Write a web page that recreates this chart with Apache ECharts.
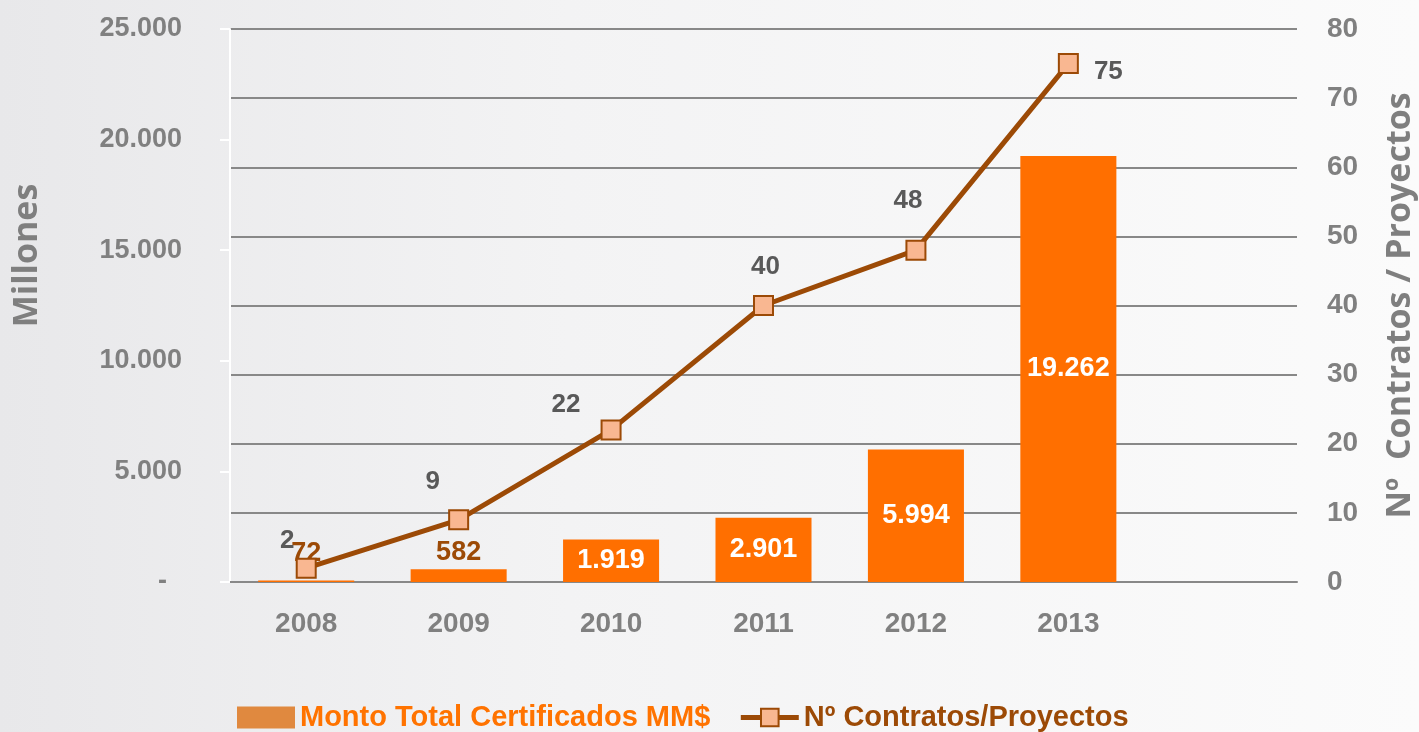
<!DOCTYPE html>
<html>
<head>
<meta charset="utf-8">
<script src="https://cdn.jsdelivr.net/npm/echarts@6/dist/echarts.min.js"></script>
<style>
  html, body { margin: 0; padding: 0; }
  body { background: linear-gradient(to right, #e8e8ea 0%, #f3f3f4 40%, #fbfbfb 100%); }
  #main { width: 1419px; height: 732px; }
</style>
</head>
<body>
<div id="main"></div>
<script>
var years = ['2008', '2009', '2010', '2011', '2012', '2013', ''];
var montoTotal = [72, 582, 1919, 2901, 5994, 19262];
var contratos = [2, 9, 22, 40, 48, 75];
// label offsets for the line points, as in the original
var lineLabelOffset = [[-19, 1], [-26, -9], [-45, 3], [2, -10], [-8, -21], [40, 37]];

var fontFam = '"Liberation Sans", Arial, sans-serif';
var nameFam = '"Open Sans", sans-serif';

/* thousands with a dot, like the original */
function fmt(v) {
    return String(v).replace(/\B(?=(\d{3})+(?!\d))/g, '.');
}

var barData = montoTotal.map(function (v) {
    var small = v < 1000;
    return {
        value: v,
        label: {
            position: small ? 'top' : 'inside',
            color: small ? '#9C4A06' : '#ffffff',
            distance: v < 100 ? 13 : 3
        }
    };
});

var lineData = contratos.map(function (v, i) {
    return {
        value: v,
        label: { offset: lineLabelOffset[i] }
    };
});

var chart = echarts.init(document.getElementById('main'));
chart.setOption({
    backgroundColor: 'transparent',
    animation: false,
    grid: { left: 230, right: 122, top: 29, bottom: 150, outerBoundsMode: 'none' },
    legend: {
        top: 698,
        left: 232,
        itemWidth: 58,
        itemHeight: 22,
        itemGap: 28,
        textStyle: { fontFamily: fontFam, fontWeight: 'bold', fontSize: 29 },
        data: [
            { name: 'Monto Total Certificados MM$', icon: 'rect', itemStyle: { color: '#E0893F' }, textStyle: { color: '#FF7300' } },
            { name: 'Nº Contratos/Proyectos', lineStyle: { width: 5, color: '#9C4A06' }, textStyle: { color: '#9C4A06' } }
        ]
    },
    xAxis: {
        type: 'category',
        data: years,
        axisLine: { lineStyle: { color: '#888888', width: 2 } },
        axisTick: { show: false },
        axisLabel: { color: '#808080', fontFamily: fontFam, fontWeight: 'bold', fontSize: 28, margin: 28 }
    },
    yAxis: [{
        type: 'value',
        min: 0, max: 25000, interval: 5000,
        name: 'Millones',
        nameLocation: 'middle',
        nameRotate: 90,
        nameGap: 186,
        nameTextStyle: { color: '#7f7f7f', fontFamily: nameFam, fontWeight: 'bold', fontSize: 34, padding: [0, 0, 0, 100] },
        axisLine: { show: true, lineStyle: { color: '#ffffff', width: 2 } },
        axisTick: { show: true, length: 10, lineStyle: { color: '#ffffff', width: 2 } },
        splitLine: { show: false },
        axisLabel: {
            color: '#808080', fontFamily: fontFam, fontWeight: 'bold', fontSize: 27, margin: 48,
            formatter: function (v) { return v === 0 ? '-  ' : fmt(v); }
        }
    }, {
        type: 'value',
        min: 0, max: 80, interval: 10,
        name: 'Nº  Contratos / Proyectos',
        nameLocation: 'middle',
        nameRotate: 90,
        nameGap: 86,
        nameTextStyle: { color: '#7f7f7f', fontFamily: nameFam, fontWeight: 'bold', fontSize: 34 },
        axisLine: { show: false },
        axisTick: { show: false },
        splitLine: { lineStyle: { color: '#888888', width: 2 } },
        axisLabel: { color: '#808080', fontFamily: fontFam, fontWeight: 'bold', fontSize: 28, margin: 30 }
    }],
    series: [{
        name: 'Monto Total Certificados MM$',
        type: 'bar',
        yAxisIndex: 0,
        barWidth: '63%',
        itemStyle: { color: '#FF6F00' },
        label: {
            show: true,
            fontFamily: fontFam, fontWeight: 'bold', fontSize: 27,
            formatter: function (p) { return fmt(p.value); }
        },
        data: barData
    }, {
        name: 'Nº Contratos/Proyectos',
        type: 'line',
        yAxisIndex: 1,
        symbol: 'rect',
        symbolSize: 19,
        lineStyle: { color: '#9C4A06', width: 5 },
        itemStyle: { color: '#F9B791', borderColor: '#9C4A06', borderWidth: 2 },
        label: {
            show: true,
            position: 'top',
            color: '#595959', fontFamily: fontFam, fontWeight: 'bold', fontSize: 26
        },
        z: 5,
        data: lineData
    }]
});
</script>
</body>
</html>
